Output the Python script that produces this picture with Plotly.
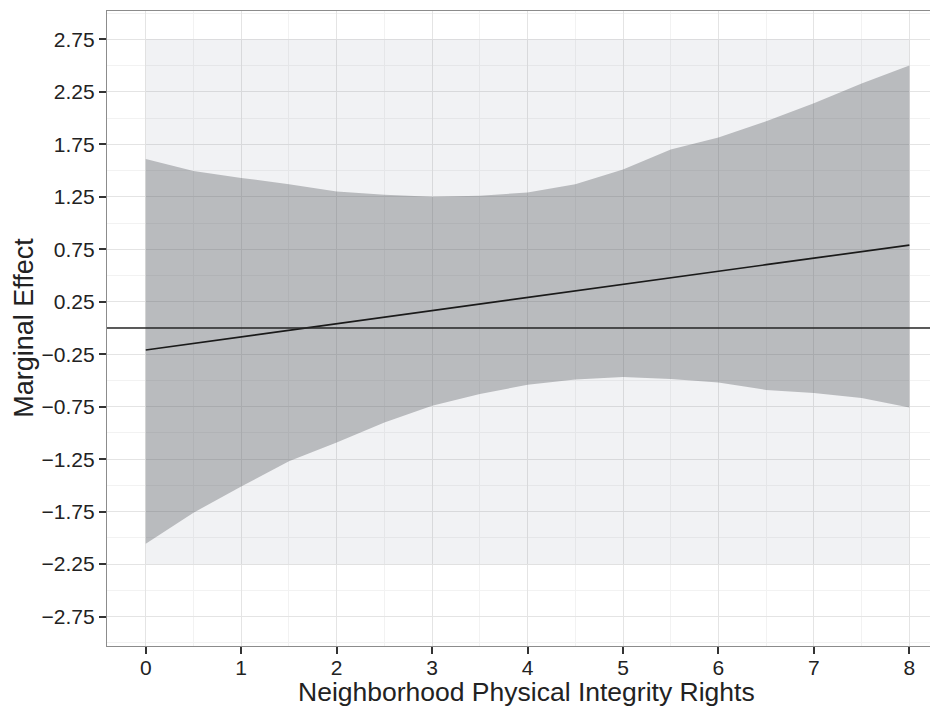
import plotly.graph_objects as go

x_vals = [0, 0.5, 1, 1.5, 2, 2.5, 3, 3.5, 4, 4.5, 5, 5.5, 6, 6.5, 7, 7.5, 8]
upper = [1.61, 1.495, 1.43, 1.37, 1.30, 1.27, 1.25, 1.26, 1.29, 1.37, 1.51, 1.70, 1.815, 1.97, 2.14, 2.33, 2.50]
lower = [-2.055, -1.76, -1.51, -1.27, -1.09, -0.90, -0.74, -0.63, -0.54, -0.49, -0.467, -0.486, -0.52, -0.59, -0.62, -0.667, -0.757]
effect = [-0.21, -0.147, -0.085, -0.022, 0.04, 0.103, 0.165, 0.228, 0.29, 0.353, 0.415, 0.478, 0.54, 0.603, 0.665, 0.728, 0.79]

rect_x = [0, 8]
rect_y = [-2.25, 2.75]

y_ticks = [2.75, 2.25, 1.75, 1.25, 0.75, 0.25, -0.25, -0.75, -1.25, -1.75, -2.25, -2.75]
y_tick_text = ["2.75", "2.25", "1.75", "1.25", "0.75", "0.25", "\u22120.25", "\u22120.75",
               "\u22121.25", "\u22121.75", "\u22122.25", "\u22122.75"]
x_ticks = [0, 1, 2, 3, 4, 5, 6, 7, 8]

x_title = "Neighborhood Physical Integrity Rights"
y_title = "Marginal Effect"

fig = go.Figure()

# light background rectangle (data range)
fig.add_trace(go.Scatter(
    x=[rect_x[0], rect_x[1], rect_x[1], rect_x[0], rect_x[0]],
    y=[rect_y[0], rect_y[0], rect_y[1], rect_y[1], rect_y[0]],
    fill="toself", fillcolor="rgba(115,125,145,0.10)",
    line=dict(width=0), mode="lines", hoverinfo="skip", showlegend=False))

# confidence ribbon
fig.add_trace(go.Scatter(
    x=x_vals + x_vals[::-1], y=upper + lower[::-1],
    fill="toself", fillcolor="rgba(87,88,95,0.36)",
    line=dict(width=0), mode="lines", hoverinfo="skip", showlegend=False))

# marginal effect line
fig.add_trace(go.Scatter(
    x=x_vals, y=effect, mode="lines",
    line=dict(color="#1a1a1a", width=1.7), showlegend=False))

fig.add_hline(y=0, line=dict(color="#262626", width=1.6))

font_family = "Liberation Sans, Arial, sans-serif"

# page body has an 8px default margin; figure sized to fill the rest of the window
fig.update_layout(
    width=930, height=698,
    margin=dict(l=99, r=0, t=3, b=60, autoexpand=False),
    paper_bgcolor="white", plot_bgcolor="white",
    font=dict(family=font_family, color="#222222"),
    showlegend=False,
    annotations=[
        dict(text=x_title, xref="paper", yref="paper", x=0.505, y=-0.072,
             xanchor="center", yanchor="middle", showarrow=False,
             font=dict(size=26.5, color="#222222")),
        dict(text=y_title, xref="paper", yref="paper", x=-0.100, y=0.501,
             xanchor="center", yanchor="middle", showarrow=False, textangle=-90,
             font=dict(size=27, color="#222222")),
    ],
)

fig.update_xaxes(
    range=[-0.406, 8.30], automargin=False,
    tickvals=x_ticks, ticktext=[str(v) for v in x_ticks],
    tickfont=dict(size=21, color="#222222"),
    ticks="outside", ticklen=7, tickwidth=1.6, tickcolor="#333333",
    ticklabelstandoff=-4,
    showgrid=True, gridcolor="#E4E4E4", gridwidth=1,
    minor=dict(dtick=0.5, tick0=0, showgrid=True, gridcolor="#F2F2F2", gridwidth=1, ticks=""),
    showline=True, linecolor="#8C8C8C", linewidth=1.3, mirror=True,
    zeroline=False,
)

fig.update_yaxes(
    range=[-3.03, 3.02], automargin=False,
    tickvals=y_ticks, ticktext=y_tick_text,
    tickfont=dict(size=21, color="#222222"),
    ticks="outside", ticklen=7, tickwidth=1.6, tickcolor="#333333",
    showgrid=True, gridcolor="#E4E4E4", gridwidth=1,
    minor=dict(dtick=0.5, tick0=0.0, showgrid=True, gridcolor="#F2F2F2", gridwidth=1, ticks=""),
    showline=True, linecolor="#8C8C8C", linewidth=1.3,
    zeroline=False,
)

fig.write_html("out.html")
